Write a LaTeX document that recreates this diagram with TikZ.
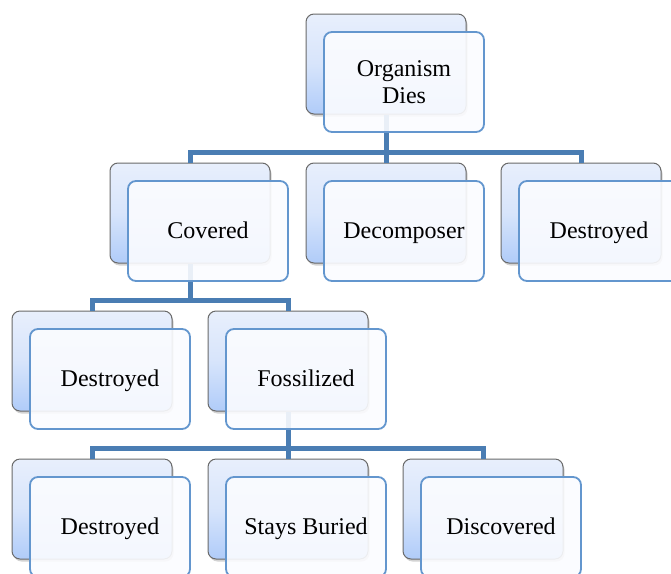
\documentclass[tikz,border=0pt]{standalone}
\usepackage{fontspec}
\setmainfont{Liberation Serif}
\usetikzlibrary{shadows,calc}
\definecolor{connc}{HTML}{4A7DB3}
\definecolor{frontborder}{HTML}{6396CE}
\definecolor{backborder}{HTML}{6A6A6A}
\definecolor{backtop}{HTML}{E8EFFC}
\definecolor{backbot}{HTML}{B0CCF9}
\definecolor{frontfill}{HTML}{FBFCFF}
\begin{document}
\begin{tikzpicture}[x=1pt,y=-1pt,
  backbox/.style={draw=backborder, line width=1pt, rounded corners=8pt,
    minimum width=160pt, minimum height=100pt, inner sep=0pt,
    top color=backtop, bottom color=backbot, middle color=backtop!70!backbot,
    drop shadow={opacity=0.35, shadow xshift=1.5pt, shadow yshift=-2.5pt}},
  frontbox/.style={draw=frontborder, line width=1.8pt, rounded corners=8pt,
    fill=frontfill, fill opacity=0.9, text opacity=1,
    minimum width=160pt, minimum height=100pt, inner sep=0pt,
    font=\fontsize{24}{27}\selectfont, align=center},
  oneline/.style={frontbox, text height=18pt, text depth=3pt},
  conn/.style={draw=connc, line width=5pt}]
\useasboundingbox (0,0) rectangle (671,573);
% back boxes
\node[backbox] (b1) at (386,64) {};
\node[backbox] (b2) at (190,213) {};
\node[backbox] (b3) at (386,213) {};
\node[backbox] (b4) at (581,213) {};
\node[backbox] (b5) at (92,361) {};
\node[backbox] (b6) at (288,361) {};
\node[backbox] (b7) at (92,509) {};
\node[backbox] (b8) at (288,509) {};
\node[backbox] (b9) at (483,509) {};
% connectors
\coordinate (j1) at ($(b1.south)+(0,38)$);
\coordinate (j2) at ($(b2.south)+(0,37)$);
\coordinate (j3) at ($(b6.south)+(0,37)$);
\draw[conn] (b1.south) -- (j1) -| (b2.north);
\draw[conn] (j1) -- (b3.north);
\draw[conn] (j1) -| (b4.north);
\draw[conn] (b2.south) -- (j2) -| (b5.north);
\draw[conn] (j2) -| (b6.north);
\draw[conn] (b6.south) -- (j3) -| (b7.north);
\draw[conn] (j3) -- (b8.north);
\draw[conn] (j3) -| (b9.north);
% front boxes
\node[frontbox] (f1) at (404,82) {Organism\\Dies};
\node[oneline] (f2) at (208,231) {Covered};
\node[oneline] (f3) at (404,231) {Decomposer};
\node[oneline] (f4) at (599,231) {Destroyed};
\node[oneline] (f5) at (110,379) {Destroyed};
\node[oneline] (f6) at (306,379) {Fossilized};
\node[oneline] (f7) at (110,527) {Destroyed};
\node[oneline] (f8) at (306,527) {Stays Buried};
\node[oneline] (f9) at (501,527) {Discovered};
\end{tikzpicture}
\end{document}
